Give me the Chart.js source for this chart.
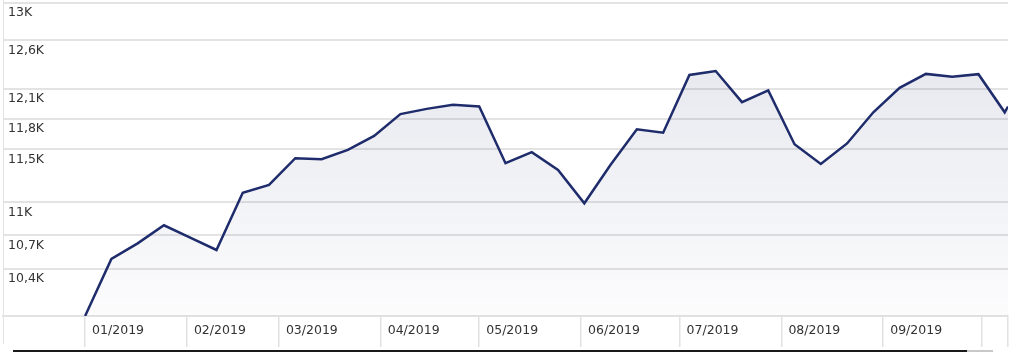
<!DOCTYPE html>
<html>
<head>
<meta charset="utf-8">
<script src="https://cdn.jsdelivr.net/npm/chart.js@4.4.1/dist/chart.umd.min.js"></script>
<style>
  html, body { margin: 0; padding: 0; background: #fff; }
  #wrap { position: relative; width: 1013px; height: 352px; overflow: hidden; }
  #leftEdge { position: absolute; left: 3px; top: 0; width: 1px; height: 344px; background: #e2e2e2; }
  #scrollBar { position: absolute; left: 13px; top: 350px; width: 954px; height: 2px; background: #1a1a1a; }
  #scrollRest { position: absolute; left: 967px; top: 350px; width: 26px; height: 2px; background: #c8c8c8; }
</style>
</head>
<body>
<div id="wrap">
  <canvas id="perfChart" width="1013" height="352"></canvas>
  <div id="leftEdge"></div>
  <div id="scrollBar"></div>
  <div id="scrollRest"></div>
</div>
<script>
// Wertentwicklung 10K, 2019
const dates = [
  '2019-01-01', '2019-01-09', '2019-01-17', '2019-01-25', '2019-02-02', '2019-02-10',
  '2019-02-18', '2019-02-26', '2019-03-06', '2019-03-14', '2019-03-22', '2019-03-30',
  '2019-04-07', '2019-04-15', '2019-04-23', '2019-05-01', '2019-05-09', '2019-05-17',
  '2019-05-25', '2019-06-02', '2019-06-10', '2019-06-18', '2019-06-26', '2019-07-04',
  '2019-07-12', '2019-07-20', '2019-07-28', '2019-08-05', '2019-08-13', '2019-08-21',
  '2019-08-29', '2019-09-06', '2019-09-14', '2019-09-22', '2019-09-30', '2019-10-08',
  '2019-10-09'
];
const values = [
  10000, 10490, 10628, 10790, 10678, 10569,
  11089, 11161, 11414, 11404, 11494, 11630,
  11844, 11896, 11936, 11919, 11366, 11472,
  11302, 10991, 11352, 11694, 11661, 12239,
  12280, 11963, 12081, 11548, 11359, 11556,
  11862, 12108, 12250, 12222, 12247, 11862,
  11919
];
const monthStarts = [
  '2019-01-01', '2019-02-01', '2019-03-01', '2019-04-01', '2019-05-01',
  '2019-06-01', '2019-07-01', '2019-08-01', '2019-09-01', '2019-10-01'
];
const monthLabels = ['01/2019', '02/2019', '03/2019', '04/2019', '05/2019', '06/2019', '07/2019', '08/2019', '09/2019'];
const yTicks = [10400, 10700, 11000, 11500, 11800, 12100, 12600, 13000];
const yTickLabels = ['10,4K', '10,7K', '11K', '11,5K', '11,8K', '12,1K', '12,6K', '13K'];
const yMin = 10000;
const yMax = 13000;
const leadDays = 25; // leerer Bereich links (unter den Y-Beschriftungen)

function dayOf(s) {
  const [y, m, d] = s.split('-').map(Number);
  return (Date.UTC(y, m - 1, d) - Date.UTC(2019, 0, 1)) / 86400000;
}

const points = dates.map((d, i) => ({ x: dayOf(d), y: values[i] }));
const lastDay = dayOf(dates[dates.length - 1]);
const xTicks = monthStarts.map(dayOf).concat([lastDay]);

const font = { family: "'DejaVu Sans', Verdana, sans-serif", size: 12.5 };

const ctx = document.getElementById('perfChart').getContext('2d');

new Chart(ctx, {
  type: 'line',
  data: {
    datasets: [{
      data: points,
      borderColor: '#1f2c6c',
      borderWidth: 2.5,
      pointRadius: 0,
      tension: 0,
      fill: 'start',
      backgroundColor: (context) => {
        const area = context.chart.chartArea;
        if (!area) return 'rgba(40,50,110,0.08)';
        const g = context.chart.ctx.createLinearGradient(0, area.top, 0, area.bottom);
        g.addColorStop(0, 'rgba(40,50,110,0.13)');
        g.addColorStop(1, 'rgba(40,50,110,0.015)');
        return g;
      }
    }]
  },
  options: {
    responsive: false,
    animation: false,
    layout: { padding: { top: 3, left: 3, right: 5, bottom: 0 } },
    plugins: {
      legend: { display: false },
      tooltip: { enabled: false }
    },
    scales: {
      x: {
        type: 'linear',
        min: -leadDays,
        max: lastDay,
        afterBuildTicks: (scale) => { scale.ticks = xTicks.map(v => ({ value: v })); },
        afterFit: (scale) => {
          scale.height = 36;
          scale.paddingLeft = 0;
          scale.paddingRight = 0;
        },
        ticks: {
          autoSkip: false,
          maxRotation: 0,
          align: 'start',
          labelOffset: 7,
          padding: -24,
          color: '#333333',
          font: font,
          callback: (value, index) => monthLabels[index] || ''
        },
        grid: {
          drawOnChartArea: false,
          drawTicks: true,
          tickLength: 31,
          color: '#e2e2e2',
          lineWidth: 1.5
        },
        border: { display: true, color: '#e2e2e2', width: 2 }
      },
      y: {
        type: 'logarithmic',
        min: yMin,
        max: yMax,
        afterBuildTicks: (scale) => { scale.ticks = yTicks.map(v => ({ value: v })); },
        afterFit: (scale) => {
          scale.width = 0;
          scale.paddingTop = 0;
          scale.paddingBottom = 0;
        },
        ticks: {
          mirror: true,
          autoSkip: false,
          padding: 5,
          labelOffset: 10,
          color: '#333333',
          font: font,
          callback: (value, index) => yTickLabels[index]
        },
        grid: {
          drawTicks: false,
          color: '#e3e3e3',
          lineWidth: 2
        },
        border: { display: false }
      }
    }
  }
});
</script>
</body>
</html>
